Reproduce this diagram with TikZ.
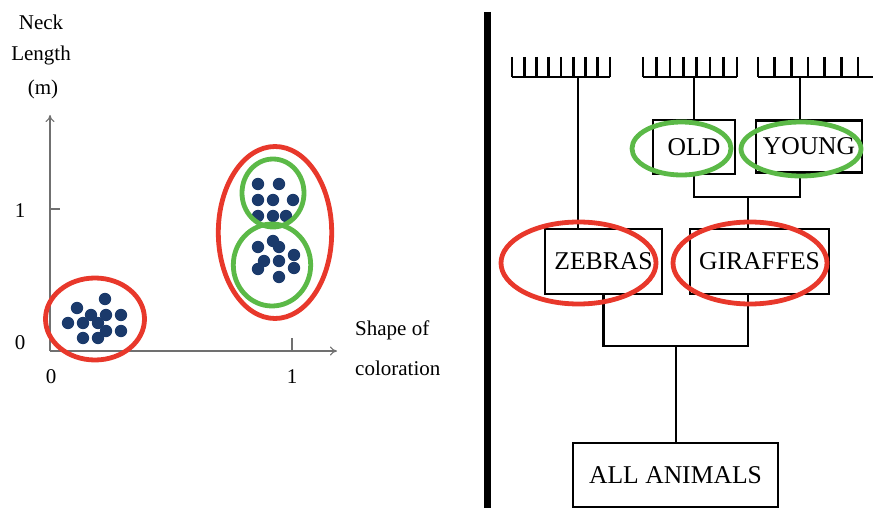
\documentclass[tikz,border=0pt]{standalone}
\usepackage{fontspec}
\setmainfont{Liberation Serif}
\usetikzlibrary{arrows.meta}
\definecolor{ringred}{HTML}{E8382B}
\definecolor{ringgreen}{HTML}{5BB947}
\definecolor{dotblue}{HTML}{1B3A6B}
\definecolor{axisgray}{HTML}{707070}
\tikzset{
  axis/.style={draw=axisgray, line width=1.1},
  lbl/.style={inner sep=0pt, font=\fontsize{21}{24}\selectfont},
  taxon/.style={draw, line width=2.4, inner sep=0pt, font=\fontsize{25.6}{30}\selectfont},
  branch/.style={line width=2.2},
  comb/.style={line width=2.6},
  redring/.style={draw=ringred, line width=4.8},
  greenring/.style={draw=ringgreen, line width=4.8},
}

\begin{document}
\begin{tikzpicture}[x=1pt, y=-1pt]
  \useasboundingbox (0,0) rectangle (873,508);
  %%%%% START %%%%%
  % scatter plot
  \coordinate (O) at (50,351);
  \draw[axis, -{To[length=7, width=9]}] (O) -- (50,115);
  \draw[axis, -{To[length=7, width=9]}] (O) -- (337,351);
  \draw[axis] (50,209) -- (60,209);
  \draw[axis] (292,338) -- (292,351);

  \node[lbl] (neck) at (41,22) {Neck};
  \node[lbl] (length) at (41,55) {Length};
  \node[lbl] (unit) at (43,89) {(m)};
  \node[lbl] (y0) at (20,343) {0};
  \node[lbl] (y1) at (20,211) {1};
  \node[lbl] (x0) at (51,377) {0};
  \node[lbl] (x1) at (292,377) {1};
  \node[lbl, anchor=west] (shape) at (355,330) {Shape of};
  \node[lbl, anchor=west] (color) at (355,368) {coloration};

  % zebras
  \foreach \x/\y in {77/308, 105/299, 68/323, 83/323, 91/315, 98/323,
                     106/315, 121/315, 106/331, 121/331, 83/338, 98/338}
    \fill[dotblue] (\x,\y) circle (6.2);
  % old giraffes
  \foreach \x/\y in {258/184, 279/184, 258/200, 273/200, 293/200,
                     258/216, 273/216, 286/216}
    \fill[dotblue] (\x,\y) circle (6.2);
  % young giraffes
  \foreach \x/\y in {273/241, 279/247, 258/247, 294/255, 264/261,
                     279/261, 258/269, 294/268, 279/277}
    \fill[dotblue] (\x,\y) circle (6.2);

  \draw[redring] (95,319) ellipse [x radius=49.5, y radius=41];
  \draw[redring] (275,232.5) ellipse [x radius=56.7, y radius=86];
  \draw[greenring] (273,193) ellipse [x radius=31, y radius=34];
  \draw[greenring] (272,265) ellipse [x radius=38.7, y radius=41];

  % divider
  \draw[line width=6.5] (487.5,12) -- (487.5,508);

  % tree
  \foreach \i in {0,...,8} \draw[comb] ({512+12.25*\i},57) -- ++(0,20);
  \draw[comb] (512,77) -- (610,77);
  \foreach \i in {0,...,7} \draw[comb] ({643+13.43*\i},57) -- ++(0,20);
  \draw[comb] (643,77) -- (737,77);
  \foreach \i in {0,...,6} \draw[comb] ({758+16.67*\i},57) -- ++(0,20);
  \draw[comb] (758,77) -- (873,77);
  \coordinate (c1) at (578,77);
  \coordinate (c2) at (694,77);
  \coordinate (c3) at (800,77);

  \node[taxon, minimum width=82, minimum height=54] (old) at (694,147) {OLD};
  \node[taxon, minimum width=106, minimum height=52] (young) at (809,146.5) {YOUNG};
  \node[taxon, minimum width=117, minimum height=65] (zebras) at (603.5,261.5) {ZEBRAS};
  \node[taxon, minimum width=139, minimum height=65] (giraffes) at (759.5,261.5) {GIRAFFES};
  \node[taxon, minimum width=205, minimum height=64] (all) at (675.5,475) {ALL ANIMALS};

  \coordinate (oy) at (748,197);
  \coordinate (zg) at (676,346);
  \draw[branch] (c1) -- (c1 |- zebras.north);
  \draw[branch] (c2) -- (old.north);
  \draw[branch] (c3) -- (c3 |- young.north);
  \draw[branch] (old.south) |- (oy) -| (c3 |- young.south);
  \draw[branch] (oy) -- (oy |- giraffes.north);
  \draw[branch] (zebras.south) |- (zg) -| (oy |- giraffes.south);
  \draw[branch] (zg) -- (zg |- all.north);

  \draw[greenring] (681.5,148.5) ellipse [x radius=49.5, y radius=26.5];
  \draw[greenring] (801,149) ellipse [x radius=60, y radius=27];
  \draw[redring] (578.5,263) ellipse [x radius=77.5, y radius=41];
  \draw[redring] (750,263) ellipse [x radius=77, y radius=41];
  %%%%% END %%%%%
\end{tikzpicture}
\end{document}
